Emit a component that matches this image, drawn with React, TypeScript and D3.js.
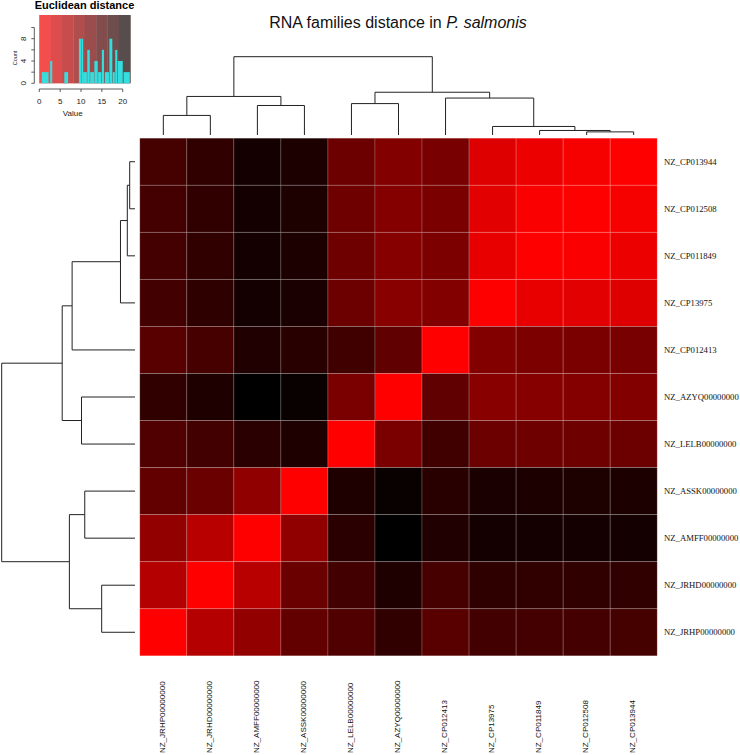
import React from "react";
import * as d3 from "d3";

// Leaves in row order (top to bottom); columns use the reverse order
const rowOrder = [
  "NZ_CP013944", "NZ_CP012508", "NZ_CP011849", "NZ_CP13975", "NZ_CP012413",
  "NZ_AZYQ00000000", "NZ_LELB00000000", "NZ_ASSK00000000", "NZ_AMFF00000000",
  "NZ_JRHD00000000", "NZ_JRHP00000000",
];
const colOrder = [...rowOrder].reverse();

// Euclidean distances, rows/cols in rowOrder
const distRows = [
  [0, 0.8, 1.5, 2.8, 11.5, 10.7, 12.6, 19.4, 20.1, 17.7, 15.9],
  [0.8, 0, 0.4, 2.5, 11.4, 10.5, 12.4, 19.3, 20.1, 17.7, 16.0],
  [1.5, 0.4, 0, 2.0, 11.2, 10.3, 12.4, 19.4, 20.1, 17.7, 16.0],
  [2.8, 2.5, 2.0, 0, 10.7, 10.2, 12.6, 19.6, 20.1, 17.9, 16.2],
  [11.5, 11.4, 11.2, 10.7, 0, 13.5, 16.3, 18.4, 19.1, 15.8, 14.3],
  [10.7, 10.5, 10.3, 10.2, 13.5, 0, 11.4, 21.0, 21.8, 19.2, 17.7],
  [12.6, 12.4, 12.4, 12.6, 16.3, 11.4, 0, 19.2, 18.2, 16.2, 15.0],
  [19.4, 19.3, 19.4, 19.6, 18.4, 21.0, 19.2, 0, 9.5, 12.7, 13.4],
  [20.1, 20.1, 20.1, 20.1, 19.1, 21.8, 18.2, 9.5, 0, 6.1, 9.2],
  [17.7, 17.7, 17.7, 17.9, 15.8, 19.2, 16.2, 12.7, 6.1, 0, 6.4],
  [15.9, 16.0, 16.0, 16.2, 14.3, 17.7, 15.0, 13.4, 9.2, 6.4, 0],
];

// Dendrogram merges (same tree for rows and columns)
const mergeLeft = ["NZ_CP013944", "m1", "m2", "m3", "NZ_AZYQ00000000", "m4", "NZ_ASSK00000000", "NZ_JRHD00000000", "m7", "m6"];
const mergeRight = ["NZ_CP012508", "NZ_CP011849", "NZ_CP13975", "NZ_CP012413", "NZ_LELB00000000", "m5", "NZ_AMFF00000000", "NZ_JRHP00000000", "m8", "m9"];
const mergeHeight = [3.1, 4.5, 8.5, 36.8, 31.3, 42.6, 29.4, 19.5, 38.4, 78];

// Colour key histogram
const histLo = [0.6, 2.6, 6.0, 9.5, 10.1, 10.5, 11.5, 12.2, 13.2, 14.1, 15.0, 15.7, 16.8, 17.6, 18.2, 18.8, 20.2];
const histHi = [2.2, 3.1, 6.9, 10.0, 10.5, 11.4, 12.1, 13.1, 14.0, 14.9, 15.5, 16.7, 17.5, 18.1, 18.7, 20.0, 21.7];
const histCount = [2, 4, 2, 8, 8, 2, 6, 2, 4, 2, 6, 2, 8, 2, 6, 4, 2];
const keyTicks = [0, 5, 10, 15, 20];
const countTicks = [0, 2, 4, 6, 8, 10];
const countLabels = [0, 4, 8];

const DMAX = 21.8;
const KEY_BANDS = 8;

export default function App() {
  const x = d3.scaleBand<string>().domain(colOrder).range([139.8, 657.2]);
  const y = d3.scaleBand<string>().domain(rowOrder).range([138.2, 655.8]);
  const color = d3.scaleLinear<string>().domain([0, DMAX]).range(["#ff0000", "#000000"]);
  const rowH = d3.scaleLinear().domain([0, 78]).range([135, 1.7]);
  const colH = d3.scaleLinear().domain([0, 78]).range([135, 56.7]);

  const kx = d3.scaleLinear().domain([0, 21]).range([39.3, 126.9]);
  const ky = d3.scaleLinear().domain([0, 8]).range([83.3, 38.7]);

  // dendrogram geometry
  const rowPos: Record<string, number> = {};
  const colPos: Record<string, number> = {};
  const hgt: Record<string, number> = {};
  rowOrder.forEach((n) => {
    rowPos[n] = (y(n) as number) + y.bandwidth() / 2;
    colPos[n] = (x(n) as number) + x.bandwidth() / 2;
    hgt[n] = 0;
  });
  const rowPaths: string[] = [];
  const colPaths: string[] = [];
  mergeLeft.forEach((a, i) => {
    const b = mergeRight[i];
    const h = mergeHeight[i];
    const id = "m" + (i + 1);
    rowPaths.push(
      `M${rowH(hgt[a])},${rowPos[a]}H${rowH(h)}V${rowPos[b]}H${rowH(hgt[b])}`
    );
    colPaths.push(
      `M${colPos[a]},${colH(hgt[a])}V${colH(h)}H${colPos[b]}V${colH(hgt[b])}`
    );
    rowPos[id] = (rowPos[a] + rowPos[b]) / 2;
    colPos[id] = (colPos[a] + colPos[b]) / 2;
    hgt[id] = h;
  });

  const bandW = DMAX / KEY_BANDS;
  const serif = "'Liberation Serif', 'Times New Roman', serif";
  const sans = "'Liberation Sans', Arial, Helvetica, sans-serif";

  return (
    <svg
      width={740}
      height={755}
      style={{ position: "absolute", left: 0, top: 0, background: "#fff" }}
    >
      {/* Title */}
      <text x={398} y={28} textAnchor="middle" fontFamily={sans} fontSize={16} fill="#111">
        RNA families distance in <tspan fontStyle="italic">P. salmonis</tspan>
      </text>

      {/* Colour key */}
      <text x={84.5} y={9} textAnchor="middle" fontFamily={sans} fontSize={11} fontWeight="bold" fill="#000">
        Euclidean distance
      </text>
      {d3.range(KEY_BANDS).map((i) => (
        <rect
          key={"kb" + i}
          x={kx(i * bandW)}
          y={15}
          width={kx((i + 1) * bandW) - kx(i * bandW) + 0.3}
          height={83.3 - 15}
          fill={color((i + 0.5) * bandW)}
        />
      ))}
      <rect x={kx(0)} y={15} width={kx(DMAX) - kx(0)} height={83.3 - 15} fill="#fff" opacity={0.3} />
      {histCount.map((c, i) => (
        <rect
          key={"h" + i}
          x={kx(histLo[i])}
          y={ky(c)}
          width={kx(histHi[i]) - kx(histLo[i])}
          height={ky(0) - ky(c)}
          fill="#35dede"
        />
      ))}
      <line x1={kx(0)} x2={kx(20)} y1={89} y2={89} stroke="#333" strokeWidth={0.8} />
      {keyTicks.map((t) => (
        <g key={"kt" + t}>
          <line x1={kx(t)} x2={kx(t)} y1={89} y2={92} stroke="#333" strokeWidth={0.8} />
          <text x={kx(t)} y={104} textAnchor="middle" fontFamily={sans} fontSize={8} fill="#222">
            {t}
          </text>
        </g>
      ))}
      <text x={kx(8)} y={116} textAnchor="middle" fontFamily={sans} fontSize={8} fill="#222">
        Value
      </text>
      <line x1={34.3} x2={34.3} y1={ky(0)} y2={ky(10)} stroke="#333" strokeWidth={0.8} />
      {countTicks.map((t) => (
        <line key={"ct" + t} x1={31.3} x2={34.3} y1={ky(t)} y2={ky(t)} stroke="#333" strokeWidth={0.8} />
      ))}
      {countLabels.map((t) => (
        <text
          key={"cl" + t}
          transform={`translate(25.5,${ky(t)}) rotate(-90)`}
          textAnchor="middle"
          fontFamily={sans}
          fontSize={8}
          fill="#222"
        >
          {t}
        </text>
      ))}
      <text transform="translate(16.5,58) rotate(-90)" textAnchor="middle" fontFamily={sans} fontSize={5.5} fill="#222">
        Count
      </text>

      {/* Heatmap */}
      {rowOrder.map((r, i) =>
        colOrder.map((c) => {
          const j = rowOrder.indexOf(c);
          return (
            <rect
              key={r + c}
              x={x(c)}
              y={y(r)}
              width={x.bandwidth()}
              height={y.bandwidth()}
              fill={color(distRows[i][j])}
              stroke="rgba(255,255,255,0.22)"
              strokeWidth={0.8}
            />
          );
        })
      )}

      {/* Dendrograms */}
      {rowPaths.map((p, i) => (
        <path key={"rp" + i} d={p} fill="none" stroke="#222" strokeWidth={1} />
      ))}
      {colPaths.map((p, i) => (
        <path key={"cp" + i} d={p} fill="none" stroke="#222" strokeWidth={1} />
      ))}

      {/* Row labels */}
      {rowOrder.map((r) => (
        <text
          key={"rl" + r}
          x={664}
          y={(y(r) as number) + y.bandwidth() / 2}
          dy="0.35em"
          fontFamily={serif}
          fontSize={8.7}
          fill="#111"
        >
          {r}
        </text>
      ))}

      {/* Column labels */}
      {colOrder.map((c) => (
        <text
          key={"cl" + c}
          transform={`translate(${(x(c) as number) + x.bandwidth() / 2 - 1.5},753) rotate(-90)`}
          dy="0.35em"
          fontFamily={sans}
          fontSize={8}
          fill="#111"
        >
          {c}
        </text>
      ))}
    </svg>
  );
}
